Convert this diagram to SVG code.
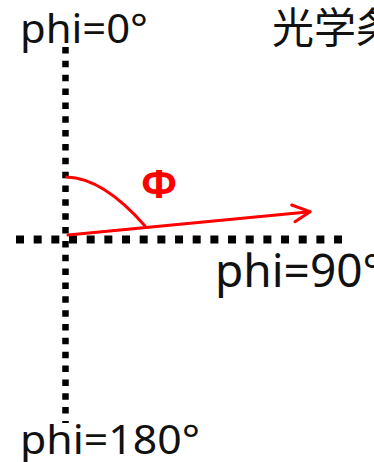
<svg xmlns="http://www.w3.org/2000/svg" width="374" height="462" viewBox="0 0 374 462">
<style>
.lbl{font-family:"Noto Sans","Liberation Sans",sans-serif;fill:#111}
.jp{font-family:"Noto Sans CJK JP","Noto Sans",sans-serif;fill:#111}
.red{stroke:#FF0000;stroke-width:3;fill:none;stroke-linecap:round;stroke-linejoin:round}
.phi{font-family:"Noto Sans","DejaVu Sans",sans-serif;font-weight:bold;fill:#FF0000}
</style>
<rect width="374" height="462" fill="#fff"/>
<g id="connectors">
<line id="axis-vertical" x1="65.5" y1="47" x2="65.5" y2="423" stroke="#000" stroke-width="6.5" stroke-dasharray="6.5 7.35"/>
<line id="axis-horizontal" x1="16" y1="239.5" x2="342" y2="239.5" stroke="#000" stroke-width="8" stroke-dasharray="8 9.67"/>
<path id="angle-arc" class="red" d="M66.7,177 C98,178 125,203 145,226"/>
<line id="phi-vector" class="red" x1="68" y1="235" x2="310" y2="211.7"/>
<polyline id="phi-vector-head" class="red" points="291.7,205 310,211.7 295,221.7"/>
</g>
<g id="label-phi0"><text class="lbl" x="20" y="43" font-size="40" textLength="128" lengthAdjust="spacingAndGlyphs">phi=0°</text></g>
<g id="label-title"><text class="jp" x="272" y="43" font-size="42">光学条</text></g>
<g id="label-phi90"><text class="lbl" x="215" y="287" font-size="46">phi=90°</text></g>
<g id="label-phi180"><text class="lbl" x="20" y="454" font-size="40" textLength="180" lengthAdjust="spacingAndGlyphs">phi=180°</text></g>
<g id="label-Phi"><text class="phi" x="159" y="198" font-size="40" text-anchor="middle">Φ</text></g>
</svg>
